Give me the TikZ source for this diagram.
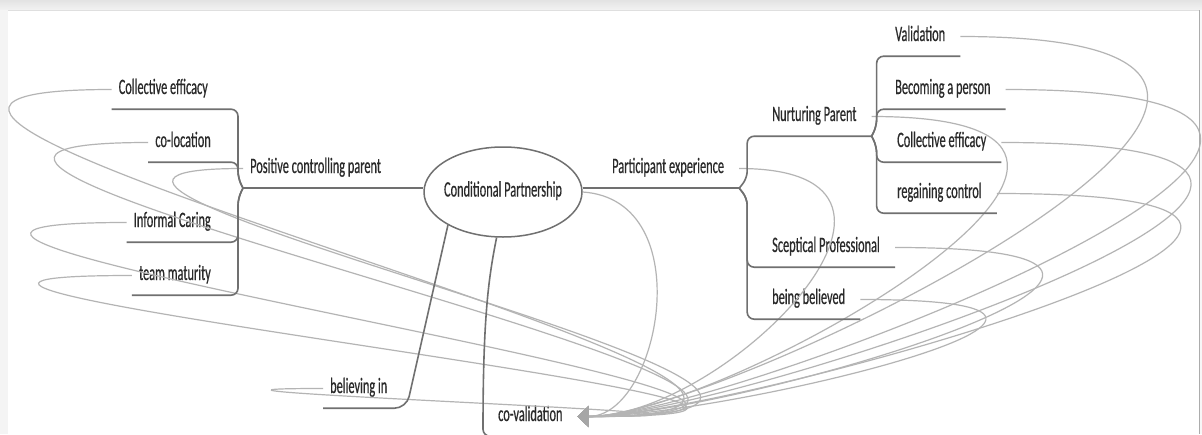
\documentclass[tikz,border=0pt]{standalone}
\usepackage{fontspec}
\setmainfont{Carlito}[FakeStretch=0.56,FakeBold=0.5]
\usetikzlibrary{arrows.meta,shapes.geometric}
\definecolor{txt}{HTML}{2A2A2A}
\definecolor{branchc}{HTML}{707070}
\definecolor{relc}{HTML}{B4B4B4}
\definecolor{arrowc}{HTML}{A6A6A6}
\begin{document}
\begin{tikzpicture}[x=1pt,y=-1pt,
  topic/.style={font=\fontsize{22}{26}\selectfont, text=txt,
    text height=14pt, text depth=5pt, inner ysep=10pt},
  leafL/.style={topic, inner xsep=7pt},
  leafR/.style={topic, inner xsep=15pt},
  central/.style={ellipse, draw=branchc, line width=1.5pt,
    font=\fontsize{22}{26}\selectfont, text=txt,
    minimum width=158pt, minimum height=90pt,
    inner xsep=-8pt, inner ysep=0pt, text height=14pt, text depth=5pt},
  branch/.style={draw=branchc, line width=1.6pt, rounded corners=7pt},
  rel/.style={draw=relc, line width=1.2pt,
    -{Triangle[length=11pt,width=21pt,color=arrowc]}},
]
\useasboundingbox (0,0) rectangle (1202,434);
\clip (0,0) rectangle (1202,434);
% page background and window frame
\fill[white] (0,0) rectangle (1202,434);
\fill[top color=gray!22, bottom color=gray!10] (0,0) rectangle (1202,10);
\fill[gray!9] (0,10) rectangle (8,434);
\fill[gray!6] (1200,10) rectangle (1202,434);

% central topic
\node[central] (cp) at (503,192) {Conditional Partnership};

% left branch
\node[leafL, anchor=base west] (pcp) at (243,173) {Positive controlling parent};
\node[leafL, anchor=base east] (ceL) at (215,94) {Collective efficacy};
\node[leafL, anchor=base east] (col) at (218,147) {co-location};
\node[leafL, anchor=base east] (ic)  at (218,227) {Informal Caring};
\node[leafL, anchor=base east] (tm)  at (218,280) {team maturity};

% lower branches
\node[leafL, anchor=base west] (bi) at (323,393) {believing in};
\node[leafR, anchor=base west] (cv) at (483,421) {co-validation};

% right branch
\node[leafR, anchor=base west] (pe)  at (597,173) {Participant experience};
\node[leafR, anchor=base west] (np)  at (757,121) {Nurturing Parent};
\node[leafR, anchor=base west] (val) at (880,41)  {Validation};
\node[leafR, anchor=base west] (bap) at (880,94)  {Becoming a person};
\node[leafR, anchor=base west] (ceR) at (882,147) {Collective efficacy};
\node[leafR, anchor=base west] (rc)  at (882,198) {regaining control};
\node[leafR, anchor=base west] (sp)  at (757,252) {Sceptical Professional};
\node[leafR, anchor=base west] (bb)  at (757,304) {being believed};

% relationships, all pointing at co-validation
\draw[rel] (ceL.west) .. controls +(-488,0) and +(480,0) .. (cv.east);
\draw[rel] (col.west) .. controls +(-454,0) and +(480,0) .. (cv.east);
\draw[rel] (pcp.west) .. controls +(-362,0) and +(480,0) .. (cv.east);
\draw[rel] (ic.west)  .. controls +(-464,0) and +(480,0) .. (cv.east);
\draw[rel] (tm.west)  .. controls +(-455,0) and +(480,0) .. (cv.east);
\draw[rel] (bi.west)  .. controls +(-260,0) and +(300,0) .. (cv.east);
\draw[rel] (cp.east)  .. controls +(118,8) and +(82,0) .. (cv.east);
\draw[rel] (pe.east)  .. controls +(230,0) and +(150,0) .. (cv.east);
\draw[rel] (np.east)  .. controls +(380,0) and +(150,0) .. (cv.east);
\draw[rel] (val.east) .. controls +(535,0) and +(150,0) .. (cv.east);
\draw[rel] (bap.east) .. controls +(570,0) and +(150,0) .. (cv.east);
\draw[rel] (ceR.east) .. controls +(556,0) and +(150,0) .. (cv.east);
\draw[rel] (rc.east)  .. controls +(541,0) and +(150,0) .. (cv.east);
\draw[rel] (sp.east)  .. controls +(417,0) and +(150,0) .. (cv.east);
\draw[rel] (bb.east)  .. controls +(352,0) and +(150,0) .. (cv.east);

% topic connectors with underlines
\draw[branch] (pcp.south west) -- (pcp.south west -| cp.west);
\draw[branch] (pe.south west -| cp.east) -- (pe.south east);
\foreach \c in {ceL,col}
  \draw[branch] (pcp.south west) -- ++(-5,-10) |- (\c.south west);
\foreach \c in {ic,tm}
  \draw[branch] (pcp.south west) -- ++(-5,10) |- (\c.south west);
\draw[branch] (pe.south east) -- ++(8,-10) |- (np.south east);
\foreach \c in {sp,bb}
  \draw[branch] (pe.south east) -- ++(8,10) |- (\c.south east);
\foreach \c in {val,bap}
  \draw[branch] (np.south east) -- ++(5,-10) |- (\c.south east);
\foreach \c in {ceR,rc}
  \draw[branch] (np.south east) -- ++(5,10) |- (\c.south east);
\draw[branch, rounded corners=12pt] (cp.211) -- ([xshift=12pt]bi.south east) -- (bi.south west);
\draw[branch] (cp.262) .. controls +(-8,40) and +(0,-120) .. (cv.south west) -- (cv.south east);

% right window edge
\draw[gray!65, line width=1pt] (1199.5,10) -- (1199.5,434);
\draw[gray!25, line width=0.8pt] (8,10.4) -- (1199,10.4);
\end{tikzpicture}
\end{document}
